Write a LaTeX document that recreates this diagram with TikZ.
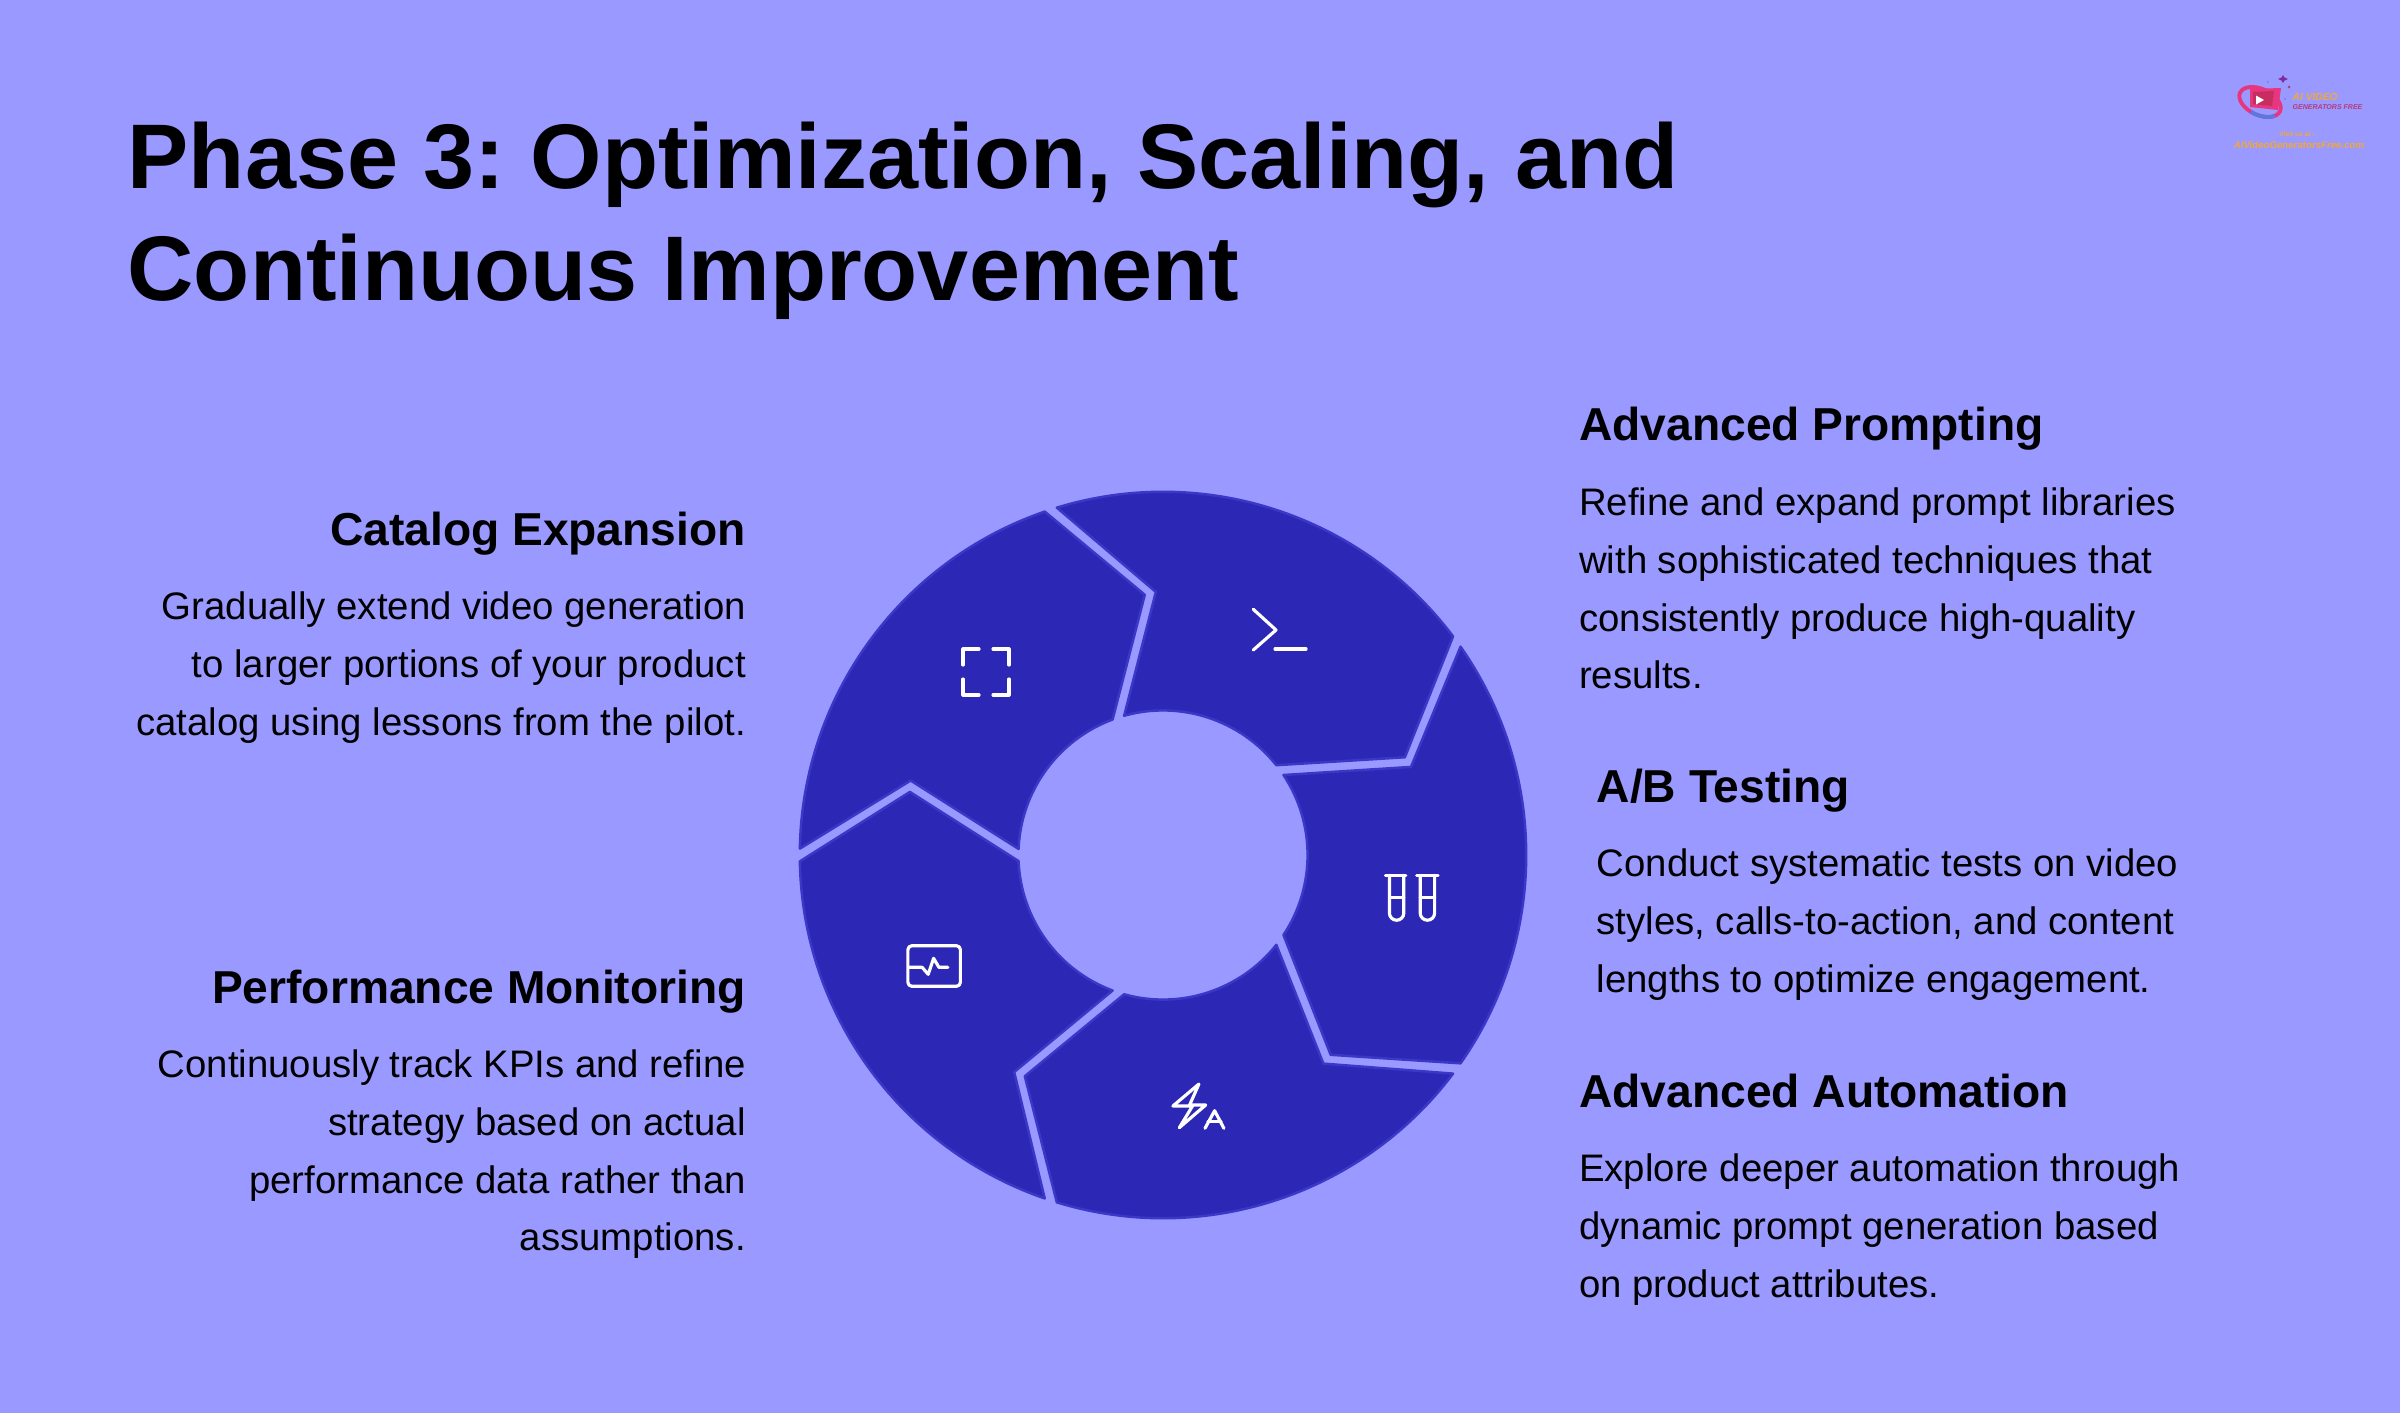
\documentclass[tikz,border=0pt]{standalone}
\usepackage{fontspec}
\setmainfont{Liberation Sans}
\usetikzlibrary{shapes.geometric}
\AtBeginDocument{\frenchspacing}
\definecolor{bgc}{HTML}{9999FF}
\definecolor{segfill}{HTML}{2D27B6}
\definecolor{segline}{HTML}{3B38C8}
\definecolor{logoorange}{HTML}{F0A83C}
\definecolor{logored}{HTML}{B83A78}
\definecolor{logopink}{HTML}{E8357F}
\definecolor{logoblue}{HTML}{5A78E0}
\tikzset{
  x=0.01cm,y=-0.01cm,
  titletext/.style={anchor=north west,inner sep=0pt,align=left,text=black,font=\fontsize{26.1pt}{31.87pt}\selectfont\bfseries},
  headtext/.style={inner sep=0pt,text=black,font=\fontsize{13.13pt}{16pt}\selectfont\bfseries},
  desctext/.style={inner sep=0pt,text=black,font=\fontsize{10.9pt}{16.4pt}\selectfont},
  descL/.style={desctext,anchor=north east,align=right},
  descR/.style={desctext,anchor=north west,align=left},
  segment/.style={fill=segfill,draw=segline,line width=0.7pt,line join=round},
  icon/.style={draw=white,line width=0.9pt,line cap=round,line join=round},
}
\newcommand{\firstline}{\rule{0pt}{8pt}}
\begin{document}
\begin{tikzpicture}
\useasboundingbox (0,0) rectangle (2400,1412);
\fill[bgc] (-10,-10) rectangle (2410,1422);

% ring of five arrow-shaped segments
\coordinate (ringc) at (1163,855);
\foreach \r in {0,72,144,216,288}{
  \begin{scope}[shift={(ringc)},rotate=\r]
    \draw[segment] (35:3.63cm) arc[start angle=35,end angle=-35,radius=3.63cm]
      -- (-50:2.607cm) -- (-33.6:1.445cm)
      arc[start angle=-33.6,end angle=33.6,radius=1.445cm]
      -- (19.56:2.63cm) -- cycle;
  \end{scope}
}

% icons
\draw[icon] (979,649) -- (963,649) -- (963,665);
\draw[icon] (993,649) -- (1009,649) -- (1009,665);
\draw[icon] (963,679) -- (963,695) -- (979,695);
\draw[icon] (1009,679) -- (1009,695) -- (993,695);

\draw[icon] (1253.3,609.3) -- (1276,630) -- (1253.3,650);
\draw[icon] (1275,649) -- (1306,649);

\draw[icon] (1385.4,875.4) -- (1405.8,875.4);
\draw[icon] (1389.4,875.4) -- (1389.4,913) arc[start angle=180,end angle=360,radius=0.072cm] -- (1403.8,875.4);
\draw[icon] (1389.4,897.8) -- (1403.8,897.8);
\draw[icon] (1416.7,875.4) -- (1438,875.4);
\draw[icon] (1420.2,875.4) -- (1420.2,913) arc[start angle=180,end angle=360,radius=0.072cm] -- (1434.6,875.4);
\draw[icon] (1420.2,897.8) -- (1434.6,897.8);

\draw[icon] (1198.9,1084) -- (1172.9,1106) -- (1192.5,1106) -- (1179.3,1127.7) -- (1205.7,1105) -- (1189.6,1105) -- cycle;
\draw[icon] (1205,1128.3) -- (1214.6,1110.7) -- (1223.9,1128.3);
\draw[icon] (1207.9,1121.7) -- (1221,1121.7);

\draw[icon,rounded corners=0.04cm] (907.9,945.7) rectangle (960.4,986.3);
\draw[icon] (909.3,967.3) -- (922.1,967.3) -- (928.2,974.3) -- (933.6,958.3) -- (938.9,967.3) -- (947.9,967.3);

% title
\node[titletext] (title) at (127,107) {\rule{0pt}{23pt}Phase 3: Optimization, Scaling, and\\Continuous Improvement};

% left column
\node[headtext,anchor=base east] (h1) at (746.5,545) {Catalog Expansion};
\node[descL] (d1) at (746.5,591) {\firstline Gradually extend video generation\\to larger portions of your product\\catalog using lessons from the pilot.};
\node[headtext,anchor=base east] (h2) at (746.5,1003) {Performance Monitoring};
\node[descL] (d2) at (746.5,1049) {\firstline Continuously track KPIs and refine\\strategy based on actual\\performance data rather than\\assumptions.};

% right column
\node[headtext,anchor=base west] (h3) at (1578.5,440) {Advanced Prompting};
\node[descR] (d3) at (1578.5,487) {\firstline Refine and expand prompt libraries\\with sophisticated techniques that\\consistently produce high-quality\\results.};
\node[headtext,anchor=base west] (h4) at (1596,802) {A/B Testing};
\node[descR] (d4) at (1596,848) {\firstline Conduct systematic tests on video\\styles, calls-to-action, and content\\lengths to optimize engagement.};
\node[headtext,anchor=base west] (h5) at (1578.5,1107) {Advanced Automation};
\node[descR] (d5) at (1578.5,1153) {\firstline Explore deeper automation through\\dynamic prompt generation based\\on product attributes.};

% logo
\begin{scope}[shift={(2260,102)},rotate=-25]
  \draw[logopink,line width=1.1pt] (0,0) ellipse[x radius=0.22cm,y radius=0.13cm];
\end{scope}
\fill[logopink] (2250,89) -- (2281,88) -- (2278,110) -- (2250,107) -- cycle;
\fill[logored!80!red] (2253,92) -- (2274,91) -- (2272,106) -- (2253,104) -- cycle;
\fill[white] (2256,95.5) -- (2256,104.5) -- (2264,100) -- cycle;
\begin{scope}[shift={(2260,102)},rotate=-25]
  \draw[logoblue,line width=1.1pt] (-30:0.22cm and 0.13cm) arc[start angle=-30,end angle=-100,x radius=0.22cm,y radius=0.13cm];
\end{scope}
\fill[logored!70!blue] (2283,75) -- (2284.5,77.5) -- (2288,79) -- (2284.5,80.5) -- (2283,83) -- (2281.5,80.5) -- (2278,79) -- (2281.5,77.5) -- cycle;
\fill[logored] (2289,87) circle[radius=0.015cm];
\fill[logoblue] (2268,82) circle[radius=0.008cm];
\fill[logoblue] (2285,99) circle[radius=0.008cm];
\node[inner sep=0pt,anchor=west,text=logoorange,font=\fontsize{2.9pt}{3pt}\selectfont\bfseries\itshape] (logoa) at (2292,97) {AI VIDEO};
\node[inner sep=0pt,anchor=west,text=logored,font=\fontsize{2pt}{3pt}\selectfont\bfseries\itshape] (logob) at (2292,107) {GENERATORS FREE};
\node[inner sep=0pt,text=logoorange,font=\fontsize{1.9pt}{3pt}\selectfont\bfseries] (logoc) at (2297,134) {Visit us at :};
\node[inner sep=0pt,text=logoorange,font=\fontsize{2.75pt}{3pt}\selectfont\bfseries\itshape] (logod) at (2299,145) {AIVideoGeneratorsFree.com};
\end{tikzpicture}
\end{document}
